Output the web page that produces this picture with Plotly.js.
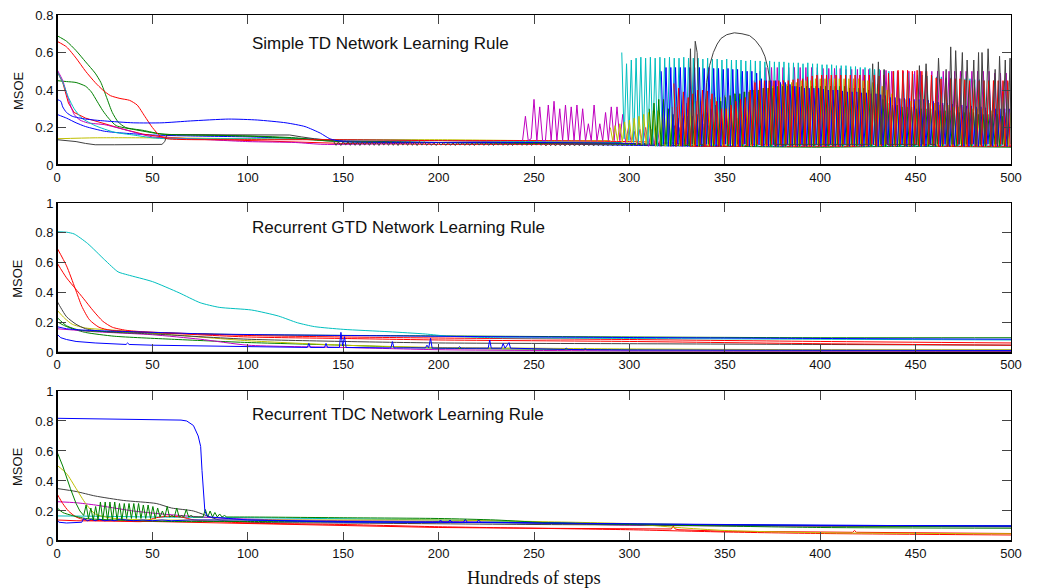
<!DOCTYPE html>
<html><head><meta charset="utf-8">
<script src="https://cdn.plot.ly/plotly-3.0.1.min.js"></script>
<style>body{margin:0;background:#fff}#chart{width:1041px;height:588px}</style>
</head><body><div id="chart"></div>
<script>
// ---------------- data: panel 1 (Simple TD) ----------------
const xTicks = [0,50,100,150,200,250,300,350,400,450,500];
const panelTitles = ["Simple TD Network Learning Rule","Recurrent GTD Network Learning Rule","Recurrent TDC Network Learning Rule"];

const td_blue1_x = [0,2,3,5,8,15,25,40,55,70,90,105,120,130,138,143,150,200,250,300,316.7];
const td_blue1_y = [0.35,0.34,0.31,0.28,0.26,0.245,0.235,0.225,0.225,0.235,0.245,0.24,0.225,0.205,0.17,0.14,0.125,0.12,0.12,0.115,0.11];
const td_blue2_x = [0,5,10,15,25,35,50,70,100,130,150,200,250,300,350,400,450,500];
const td_blue2_y = [0.27,0.25,0.225,0.205,0.18,0.17,0.16,0.155,0.15,0.14,0.13,0.12,0.115,0.105,0.10,0.10,0.10,0.10];
const td_green1_x = [0,5,10,15,20,23,26,29,32,36,45,55,70,100,125,140,150,200,250,300,310.4];
const td_green1_y = [0.69,0.66,0.61,0.55,0.49,0.44,0.36,0.28,0.23,0.20,0.185,0.165,0.16,0.155,0.145,0.13,0.125,0.12,0.12,0.115,0.11];
const td_green2_x = [0,5,10,15,18,21,24,27,31,40,55,80,110,140,150,200,250,300,350,400,450,500];
const td_green2_y = [0.45,0.445,0.44,0.42,0.39,0.34,0.29,0.25,0.21,0.19,0.165,0.16,0.15,0.13,0.125,0.12,0.115,0.11,0.10,0.095,0.10,0.095];
const td_red1_x = [0,5,10,15,20,24,28,33,38,42,46,50,54,58,100,150,200,250,300,323.3];
const td_red1_y = [0.66,0.63,0.57,0.50,0.44,0.40,0.37,0.355,0.345,0.32,0.26,0.20,0.155,0.14,0.135,0.135,0.13,0.13,0.125,0.12];
const td_red2_x = [0,3,6,9,15,25,35,45,55,70,100,125,150,200,250,300,330,332,360,362,380,382,420,422,460,462,500];
const td_red2_y = [0.50,0.44,0.33,0.28,0.25,0.22,0.19,0.165,0.15,0.14,0.13,0.12,0.115,0.11,0.11,0.115,0.115,0.10,0.10,0.11,0.11,0.10,0.10,0.11,0.11,0.10,0.10];
const td_magenta_x = [0,3,6,9,12,16,25,35,50,70,100,125,140,244];
const td_magenta_y = [0.51,0.45,0.35,0.27,0.24,0.225,0.215,0.19,0.15,0.14,0.125,0.12,0.11,0.13];
const td_cyan_x = [0,3,6,9,13,20,30,40,50,58,100,150,200,250,296];
const td_cyan_y = [0.50,0.44,0.36,0.30,0.25,0.21,0.175,0.16,0.145,0.14,0.14,0.135,0.13,0.125,0.12];
const td_yellow_x = [0,20,50,100,150,200,250,290];
const td_yellow_y = [0.14,0.145,0.145,0.14,0.135,0.135,0.13,0.13];
const td_black_x = [0,10,15,20,30,55,56.5,57.5,60,100,122,128,135,145];
const td_black_y = [0.135,0.125,0.115,0.108,0.108,0.11,0.125,0.16,0.162,0.16,0.16,0.15,0.14,0.13];

// ripple band of the black run, 145..330 (step 1.25)
const td_black_ripple = [
0.125,0.105,0.123,0.104,0.125,0.106,0.124,0.105,
0.125,0.105,0.123,0.104,0.125,0.106,0.124,0.105,
0.125,0.105,0.123,0.104,0.125,0.106,0.124,0.105,
0.125,0.105,0.123,0.104,0.125,0.106,0.124,0.105,
0.125,0.105,0.123,0.104,0.125,0.106,0.124,0.105,
0.12,0.105,0.118,0.104,0.121,0.106,0.119,0.105,
0.12,0.105,0.118,0.104,0.121,0.106,0.119,0.105,
0.12,0.105,0.118,0.104,0.121,0.106,0.119,0.105,
0.12,0.105,0.118,0.104,0.121,0.106,0.119,0.105,
0.12,0.105,0.118,0.104,0.121,0.106,0.119,0.105,
0.12,0.105,0.118,0.104,0.121,0.106,0.119,0.105,
0.118,0.102,0.117,0.103,0.118,0.102,0.117,0.103,
0.118,0.102,0.117,0.103,0.118,0.102,0.117,0.103,
0.118,0.102,0.117,0.103,0.118,0.102,0.117,0.103,
0.118,0.102,0.117,0.103,0.118,0.102,0.117,0.103,
0.118,0.102,0.117,0.103,0.118,0.102,0.117,0.103,
0.118,0.102,0.117,0.103,0.118,0.102,0.117,0.103,
0.118,0.102,0.117,0.103,0.118,0.102,0.117,0.103,
0.118,0.102,0.117,0.103,0.11];

const td_black_late_x = [330,331,332,333,334.5,335.5,337,339,340.5,342,344,346,348,351,355,359,363,366,369,371,372.5,374,376,426,427.5,429,430.5,432,433.5,435,450.5,452,453.5,455.5,457.5,460.5,462,464,466,467.2,468.4,469.7,471,472.7,474.5,475.7,477,478.7,480.5,481.7,483,483.9,484.8,486.4,488,489.8,491.7,492.8,494,495.5,497,498.2,499.5,500];
const td_black_late_y = [0.11,0.11,0.62,0.11,0.66,0.60,0.11,0.11,0.44,0.53,0.60,0.645,0.675,0.695,0.705,0.70,0.69,0.665,0.625,0.58,0.52,0.43,0.11,0.11,0.54,0.11,0.55,0.11,0.51,0.11,0.11,0.53,0.11,0.54,0.11,0.11,0.57,0.11,0.51,0.11,0.63,0.11,0.61,0.11,0.60,0.11,0.56,0.11,0.56,0.11,0.60,0.11,0.60,0.11,0.62,0.11,0.51,0.11,0.58,0.11,0.56,0.11,0.57,0.11];

// oscillating parts, sampled every 1.25 (magenta every 1.5)
const td_cyan_osc = [0.60,0.14,0.54,0.13,0.56,0.12,0.57,0.12,
0.575,0.11,0.57,0.11,0.575,0.11,0.57,0.10,
0.575,0.11,0.57,0.10,0.575,0.11,0.57,0.10,
0.57,0.10,0.575,0.11,0.57,0.10,0.57,0.11,
0.57,0.10,0.565,0.11,0.57,0.10,0.565,0.10,
0.565,0.10,0.56,0.11,0.565,0.10,0.56,0.10,
0.56,0.11,0.56,0.10,0.555,0.10,0.56,0.11,
0.555,0.10,0.555,0.10,0.55,0.11,0.555,0.10,
0.55,0.10,0.55,0.11,0.55,0.10,0.545,0.10,
0.545,0.11,0.545,0.10,0.54,0.10,0.545,0.11,
0.54,0.10,0.54,0.10,0.535,0.11,0.535,0.10,
0.535,0.10,0.53,0.11,0.53,0.10,0.53,0.10,
0.525,0.11,0.525,0.10,0.52,0.10,0.52,0.11,
0.515,0.10,0.51,0.10,0.51,0.11,0.505,0.10,
0.50,0.10,0.50,0.11,0.495,0.10,0.49,0.10,
0.49,0.11,0.485,0.10,0.48,0.10,0.48,0.11,
0.475,0.10,0.475,0.10,0.47,0.11,0.47,0.10,
0.465,0.10,0.465,0.11,0.46,0.10,0.46,0.10,
0.46,0.11,0.46,0.10,0.455,0.10,0.455,0.11,
0.45,0.10,0.45,0.10,0.45,0.11,0.445,0.10,
0.445,0.10,0.44];

const td_blue_osc = [0.50,0.11,0.52,0.10,0.52,0.10,0.52,0.11,
0.52,0.10,0.52,0.10,0.52,0.11,0.52,0.10,
0.52,0.10,0.515,0.11,0.52,0.10,0.515,0.10,
0.515,0.10,0.51,0.11,0.515,0.10,0.51,0.10,
0.51,0.10,0.50,0.11,0.50,0.10,0.50,0.10,
0.49,0.11,0.46,0.10,0.45,0.10,0.45,0.11,
0.45,0.10,0.44,0.10,0.44,0.11,0.43,0.10,
0.42,0.10,0.415,0.11,0.41,0.10,0.41,0.10,
0.41,0.11,0.41,0.10,0.405,0.10,0.40,0.11,
0.40,0.10,0.40,0.10,0.395,0.11,0.39,0.10,
0.39,0.10,0.39,0.11,0.385,0.10,0.385,0.10,
0.38,0.11,0.38,0.10,0.375,0.10,0.37,0.11,
0.36,0.10,0.36,0.10,0.355,0.11,0.355,0.10,
0.355,0.10,0.35,0.11,0.35,0.10,0.35,0.10,
0.345,0.11,0.34,0.10,0.335,0.10,0.33,0.11,
0.33,0.10,0.325,0.10,0.32,0.11,0.32,0.10,
0.315,0.10,0.315,0.11,0.31,0.10,0.31,0.10,
0.305,0.11,0.305,0.10,0.30,0.10,0.30,0.11,
0.30,0.10,0.30];

const td_red_osc = [0.435,0.10,0.41,0.10,0.39,0.11,0.36,0.10,
0.38,0.10,0.40,0.11,0.40,0.10,0.395,0.10,
0.38,0.11,0.34,0.10,0.30,0.10,0.30,0.11,
0.32,0.10,0.34,0.10,0.35,0.11,0.36,0.10,
0.40,0.10,0.44,0.11,0.45,0.10,0.45,0.10,
0.45,0.11,0.45,0.10,0.45,0.10,0.45,0.11,
0.45,0.10,0.455,0.10,0.46,0.11,0.46,0.10,
0.47,0.10,0.475,0.11,0.48,0.10,0.48,0.10,
0.48,0.11,0.48,0.10,0.48,0.10,0.48,0.11,
0.48,0.10,0.48,0.10,0.48,0.11,0.48,0.10,
0.48,0.10,0.48,0.11,0.48,0.10,0.475,0.10,
0.48,0.11,0.49,0.10,0.50,0.10,0.505,0.11,
0.505,0.10,0.505,0.10,0.50,0.11,0.505,0.10,
0.50,0.10,0.50,0.11,0.48,0.10,0.465,0.10,
0.46,0.11,0.46,0.10,0.46,0.10,0.46,0.11,
0.46,0.10,0.455,0.10,0.45,0.11,0.45,0.10,
0.45,0.10,0.45,0.11,0.45,0.10,0.45,0.10,
0.45,0.11,0.45,0.10,0.45,0.10];

const td_green_osc = [0.30,0.11,0.33,0.11,0.35,0.10,0.35,0.11,
0.30,0.10,0.27,0.10,0.25,0.11,0.25,0.10,
0.26,0.10,0.26,0.11,0.27,0.10,0.27,0.10,
0.28,0.11,0.30,0.10,0.32,0.10,0.34,0.11,
0.36,0.10,0.37,0.10,0.38,0.11,0.38,0.10,
0.39,0.10,0.39,0.11,0.40,0.10,0.40,0.10,
0.41,0.11,0.41,0.10,0.41,0.10,0.42,0.11,
0.42,0.10,0.42,0.10,0.42,0.11,0.42,0.10,
0.42,0.10,0.42,0.11,0.42,0.10,0.42,0.10,
0.42,0.11,0.42,0.10,0.42,0.10,0.42,0.11,
0.42,0.10,0.42,0.10,0.41,0.11,0.41,0.10,
0.41,0.10,0.41,0.11,0.40,0.10,0.40,0.10,
0.38,0.11,0.35,0.10,0.33,0.10,0.32,0.11,
0.32,0.10,0.31,0.10,0.31,0.11,0.31,0.10,
0.30,0.10,0.30,0.11,0.30,0.10,0.30,0.10,
0.29,0.11,0.29,0.10,0.29,0.10,0.29,0.11,
0.28,0.10,0.28,0.10,0.28,0.11,0.28,0.10,
0.28,0.10,0.27,0.11,0.27,0.10,0.27,0.10,
0.27,0.11,0.27,0.10,0.26,0.10];

const td_yellow_osc = [0.20,0.13,0.21,0.13,0.22,0.12,0.23,0.12,
0.24,0.12,0.25,0.11,0.26,0.11,0.27,0.11,
0.28,0.11,0.29,0.10,0.29,0.11,0.30,0.10,
0.30,0.10,0.31,0.11,0.31,0.10,0.32,0.10,
0.33,0.11,0.33,0.10,0.34,0.10,0.34,0.11,
0.35,0.10,0.35,0.10,0.36,0.11,0.36,0.10,
0.37,0.10,0.37,0.11,0.38,0.10,0.38,0.10,
0.39,0.11,0.39,0.10,0.40,0.10,0.40,0.11,
0.41,0.10,0.41,0.10,0.42,0.11,0.42,0.10,
0.43,0.10,0.43,0.11,0.44,0.10,0.44,0.10,
0.45,0.11,0.45,0.10,0.45,0.10,0.46,0.11,
0.46,0.10,0.46,0.10,0.46,0.11,0.46,0.10,
0.46,0.10,0.46,0.11,0.46,0.10,0.46,0.10,
0.46,0.11,0.45,0.10,0.45,0.10,0.44,0.11,
0.43,0.10,0.42,0.10,0.40,0.11,0.38,0.10,
0.36,0.10,0.35,0.11,0.35,0.10,0.34,0.10,
0.34,0.11,0.34,0.10,0.33,0.10,0.33,0.11,
0.33,0.10,0.32,0.10,0.32,0.11,0.32,0.10,
0.31,0.10,0.31,0.11,0.31,0.10,0.30,0.10,
0.30,0.11,0.30,0.10,0.30,0.10,0.29,0.11,
0.29,0.10,0.29,0.10,0.29,0.11,0.28,0.10,
0.28];

const td_magenta_osc = [0.13,0.26,0.13,0.14,0.35,0.13,0.31,0.13,0.13,0.32,0.13,0.34,0.13,0.30,0.13,0.32,0.13,0.31,0.13,0.32,0.13,0.30,0.13,0.22,0.13,0.32,0.13,0.22,0.13,0.28,0.13,0.31,0.13,0.31,0.13,0.27,0.12,0.20,0.12,
0.18,0.11,0.19,0.11,0.20,0.10,0.19,0.11,0.21,0.10,0.20,0.11,0.22,0.10,0.21,0.11,0.20,0.10,0.22,0.11,0.21,0.10,0.23,0.11,0.22,0.10,0.21,0.11,0.23,0.10,0.22,0.11,0.24,0.10,0.23,0.11,0.25,0.10,0.24,0.11,0.26,
0.10,0.45,0.10,0.50,0.11,0.52,0.10,0.52,0.10,0.52,0.11,0.52,0.10,0.52,0.10,0.52,0.11,0.52,0.10,0.52,
0.10,0.52,0.11,0.52,0.10,0.515,0.10,0.515,0.11,0.515,0.10,0.515,0.10,0.51,0.11,0.51,0.10,0.51,0.10,0.51,
0.11,0.51,0.10,0.505,0.10,0.505,0.11,0.505,0.10,0.50,0.10,0.50,0.11,0.50,0.10,0.50,0.10,0.50,0.11,0.50,
0.10,0.50,0.10,0.50,0.11,0.50,0.10,0.50,0.10,0.50,0.11,0.50,0.10,0.50,0.10,0.50,0.11,0.50,0.10,0.50,
0.10,0.50,0.11,0.50,0.10,0.49,0.10,0.49,0.11,0.49,0.10];

// ---------------- data: panel 2 (Recurrent GTD) ----------------
const gtd_cyan_x = [0,5,9,16,25,32,37,50,64,75,85,102,116,126,135,150,174,193,205,230,300,400,500];
const gtd_cyan_y = [0.808,0.805,0.793,0.73,0.62,0.54,0.52,0.475,0.40,0.334,0.303,0.285,0.245,0.20,0.174,0.156,0.14,0.125,0.11,0.10,0.095,0.09,0.085];
const gtd_red1_x = [0,5,9.5,13,17,22,28,40,50,100,150,200,300,400,500];
const gtd_red1_y = [0.70,0.58,0.43,0.31,0.22,0.17,0.15,0.14,0.135,0.105,0.095,0.085,0.075,0.06,0.05];
const gtd_red2_x = [0,5,9.5,14,19,24,29,36,45,100,150,200,300,400,500];
const gtd_red2_y = [0.60,0.50,0.43,0.36,0.28,0.21,0.17,0.15,0.14,0.115,0.105,0.098,0.088,0.075,0.065];
const gtd_gray_x = [0,2,5,10,15,25,50,100,150,200,300,400,500];
const gtd_gray_y = [0.345,0.30,0.24,0.19,0.16,0.14,0.125,0.09,0.075,0.065,0.06,0.055,0.05];
const gtd_yellow_x = [0,4,8,15,30,60,100,150,200,250,300,400,500];
const gtd_yellow_y = [0.285,0.23,0.19,0.165,0.15,0.12,0.08,0.05,0.035,0.03,0.025,0.02,0.02];
const gtd_green1_x = [0,5,12,30,60,100,200,300,400,500];
const gtd_green1_y = [0.236,0.18,0.15,0.14,0.13,0.12,0.112,0.105,0.10,0.10];
const gtd_green2_x = [0,4,8,15,30,60,100,150,200,300,400,500];
const gtd_green2_y = [0.207,0.18,0.16,0.135,0.11,0.09,0.068,0.05,0.03,0.02,0.015,0.012];
const gtd_blue1_x = [0,5,15,40,80,150,250,400,500];
const gtd_blue1_y = [0.174,0.16,0.15,0.14,0.125,0.115,0.105,0.095,0.09];
const gtd_magenta_x = [0,10,20,50,75,100,150,200,300,500];
const gtd_magenta_y = [0.16,0.15,0.14,0.12,0.09,0.05,0.035,0.02,0.012,0.01];
const gtd_blue2_x = [0,2,5,10,20,35,36.2,37,37.8,50,100,130,131.2,132,132.8,140.2,141,141.8,148,148.8,149.7,150.7,151.5,175,175.8,176.6,193.1,193.9,194.8,195.8,196.6,210.2,211,211.8,226,226.8,227.6,233,233.8,234.8,236.9,237.7,266,266.9,267.8,276,276.8,277.6,300,500];
const gtd_blue2_y = [0.124,0.10,0.088,0.075,0.065,0.055,0.055,0.065,0.055,0.05,0.04,0.035,0.035,0.062,0.035,0.035,0.062,0.035,0.035,0.136,0.045,0.107,0.035,0.032,0.074,0.032,0.032,0.05,0.032,0.096,0.031,0.03,0.04,0.03,0.03,0.085,0.03,0.03,0.062,0.03,0.067,0.03,0.022,0.03,0.022,0.02,0.026,0.02,0.018,0.015];

// ---------------- data: panel 3 (Recurrent TDC) ----------------
const tdc_blue1_x = [0,20,40,60,65,68,71.5,74,75.3,76,76.7,77.5,78.5,80,90,100,150,200,250,300,400,500];
const tdc_blue1_y = [0.818,0.815,0.812,0.81,0.806,0.80,0.77,0.70,0.63,0.47,0.30,0.20,0.17,0.16,0.15,0.14,0.13,0.125,0.12,0.11,0.105,0.10];
const tdc_green1_x = [0,3,7,10,12,14];
const tdc_green1_y = [0.595,0.50,0.35,0.25,0.20,0.17];
const tdc_green1_osc = [0.17,0.24,0.15,0.22,0.14,0.23,0.14,0.26,0.14,0.26,0.14,0.26,0.14,0.26,0.14,0.25,0.14,0.25,0.15,0.25,0.15,0.25,0.15,0.25,0.15,0.24,0.15,0.24,0.15,0.23,0.15,0.22,0.16,0.20,0.16,0.23,0.16,0.17,0.16,0.22,0.16,0.17,0.16,0.21,0.16,0.17,0.16,0.16,0.16,0.16,0.16,0.21,0.16,0.20,0.16,0.19,0.16,0.18,0.16,0.17,0.16];
const tdc_green1_tail_x = [89,100,150,200,230,260,300,400,500];
const tdc_green1_tail_y = [0.16,0.16,0.155,0.15,0.14,0.12,0.11,0.09,0.085];
const tdc_green2_x = [0,3,8,15,30,60,100,200,300,400,500];
const tdc_green2_y = [0.222,0.19,0.17,0.15,0.14,0.13,0.13,0.125,0.115,0.10,0.095];
const tdc_yellow_x = [0,5,10,15,20,30,50,100,150,200,250,300,325,350,400,500];
const tdc_yellow_y = [0.505,0.45,0.35,0.25,0.18,0.15,0.14,0.14,0.14,0.14,0.13,0.115,0.09,0.07,0.055,0.048];
const tdc_black_x = [0,10,20,35,52,60,71.5,85,100,150,250,350,500];
const tdc_black_y = [0.35,0.33,0.30,0.27,0.25,0.22,0.20,0.14,0.125,0.12,0.11,0.105,0.10];
const tdc_red1_x = [0,3,6,10,15,30,45,52,58,65,72,100,150,200,250,300,350,400,500];
const tdc_red1_y = [0.315,0.25,0.20,0.16,0.14,0.135,0.13,0.155,0.165,0.16,0.14,0.12,0.11,0.095,0.085,0.075,0.06,0.05,0.04];
const tdc_red2_x = [0,10,50,100,150,200,250,300,322,323,324,326,350,400,417,418,419,450,500];
const tdc_red2_y = [0.14,0.135,0.13,0.115,0.10,0.09,0.085,0.08,0.08,0.10,0.08,0.075,0.065,0.06,0.058,0.07,0.058,0.055,0.05];
const tdc_magenta_x = [0,10,20,30,40,55,70,90,120,200,250,300,500];
const tdc_magenta_y = [0.262,0.255,0.24,0.22,0.20,0.18,0.165,0.15,0.14,0.13,0.12,0.105,0.095];
const tdc_cyan_x = [0,20,50,100,200,270,300,500];
const tdc_cyan_y = [0.167,0.165,0.16,0.155,0.14,0.12,0.11,0.10];
const tdc_blue2_x = [0,1,5,13,14,16,18,20,22,25,28,30,33,36,40,45,50,55,60,70,100,150,200,201,202,205,206,207,213,214,215,220,221,222,230,260,300,400,500];
const tdc_blue2_y = [0.14,0.125,0.12,0.125,0.15,0.135,0.145,0.135,0.145,0.135,0.14,0.135,0.145,0.14,0.135,0.14,0.135,0.14,0.135,0.14,0.14,0.125,0.125,0.14,0.125,0.125,0.14,0.125,0.125,0.145,0.125,0.125,0.14,0.125,0.125,0.12,0.11,0.105,0.10];

// ---------------- drawing ----------------
const COL = {b:'#0000ff', g:'#008000', r:'#ff0000', c:'#00bfbf', m:'#bf00bf', y:'#bfbf00', k:'#404040'};
function ax(n){ return n===1 ? '' : String(n); }
function ln(x, y, col, n, shape){
  return {type:'scatter', mode:'lines', x:x, y:y, xaxis:'x'+ax(n), yaxis:'y'+ax(n),
    line:{color:col, width:1, shape:shape||'linear', smoothing:0.6}, hoverinfo:'skip', showlegend:false};
}
function osc(x0, dx, y, col, n){
  return {type:'scatter', mode:'lines', x0:x0, dx:dx, y:y, xaxis:'x'+ax(n), yaxis:'y'+ax(n),
    line:{color:col, width:1}, hoverinfo:'skip', showlegend:false};
}
const S='spline';
const traces = [
  // panel 1
  ln(td_blue2_x, td_blue2_y, COL.b, 1, S),
  ln(td_green2_x, td_green2_y, COL.g, 1, S),
  ln(td_red2_x, td_red2_y, COL.r, 1),
  ln(td_yellow_x, td_yellow_y, COL.y, 1, S),
  ln(td_magenta_x, td_magenta_y, COL.m, 1, S),
  ln(td_cyan_x, td_cyan_y, COL.c, 1, S),
  ln(td_black_x, td_black_y, COL.k, 1),
  ln(td_green1_x, td_green1_y, COL.g, 1, S),
  ln(td_red1_x, td_red1_y, COL.r, 1, S),
  ln(td_blue1_x, td_blue1_y, COL.b, 1, S),
  osc(145, 1.25, td_black_ripple, COL.k, 1),
  osc(244, 1.5, td_magenta_osc, COL.m, 1),
  osc(296, 1.25, td_cyan_osc, COL.c, 1),
  osc(290, 1.25, td_yellow_osc, COL.y, 1),
  osc(310.4, 1.25, td_green_osc, COL.g, 1),
  osc(316.7, 1.25, td_blue_osc, COL.b, 1),
  osc(323.3, 1.25, td_red_osc, COL.r, 1),
  ln(td_black_late_x, td_black_late_y, COL.k, 1),
  // panel 2
  ln(gtd_green2_x, gtd_green2_y, COL.g, 2, S),
  ln(gtd_magenta_x, gtd_magenta_y, COL.m, 2, S),
  ln(gtd_yellow_x, gtd_yellow_y, COL.y, 2, S),
  ln(gtd_gray_x, gtd_gray_y, COL.k, 2, S),
  ln(gtd_green1_x, gtd_green1_y, COL.g, 2, S),
  ln(gtd_red2_x, gtd_red2_y, COL.r, 2, S),
  ln(gtd_red1_x, gtd_red1_y, COL.r, 2, S),
  ln(gtd_cyan_x, gtd_cyan_y, COL.c, 2, S),
  ln(gtd_blue1_x, gtd_blue1_y, COL.b, 2, S),
  ln(gtd_blue2_x, gtd_blue2_y, COL.b, 2),
  // panel 3
  ln(tdc_cyan_x, tdc_cyan_y, COL.c, 3, S),
  ln(tdc_magenta_x, tdc_magenta_y, COL.m, 3, S),
  ln(tdc_black_x, tdc_black_y, COL.k, 3, S),
  ln(tdc_red2_x, tdc_red2_y, COL.r, 3),
  ln(tdc_red1_x, tdc_red1_y, COL.r, 3, S),
  ln(tdc_yellow_x, tdc_yellow_y, COL.y, 3, S),
  ln(tdc_green2_x, tdc_green2_y, COL.g, 3, S),
  ln(tdc_blue2_x, tdc_blue2_y, COL.b, 3),
  ln(tdc_green1_x, tdc_green1_y, COL.g, 3),
  osc(14, 1.25, tdc_green1_osc, COL.g, 3),
  ln(tdc_green1_tail_x, tdc_green1_tail_y, COL.g, 3, S),
  ln(tdc_blue1_x, tdc_blue1_y, COL.b, 3)
];

const FONT = 'Liberation Sans, Arial, Helvetica, sans-serif';
function xa(n){
  return {domain:[0,1], anchor:'y'+ax(n), range:[0,500], tickmode:'array', tickvals:xTicks,
    ticks:'inside', ticklen:9, tickwidth:1, tickcolor:'#444', showline:true, linecolor:'#000', linewidth:1,
    mirror:'ticks', showgrid:false, zeroline:false, tickfont:{family:FONT, size:13, color:'#111'}};
}
function ya(n, dom, top){
  return {domain:dom, anchor:'x'+ax(n), range:[0,top], tick0:0, dtick:0.2,
    ticks:'inside', ticklen:9, tickwidth:1, tickcolor:'#444', showline:true, linecolor:'#000', linewidth:1,
    mirror:'ticks', showgrid:false, zeroline:false, tickfont:{family:FONT, size:13, color:'#111'}};
}
const doms = [[0.7148,1],[0.358,0.6426],[0,0.2852]];
const shapes = [];
const annotations = [];
const titleY = [0.65, 0.836, 0.84];
for (let n=1;n<=3;n++){
  shapes.push({type:'line', xref:'x'+ax(n)+' domain', yref:'y'+ax(n)+' domain', x0:0, x1:1, y0:0, y1:0, line:{color:'#000', width:2}});
  shapes.push({type:'line', xref:'x'+ax(n)+' domain', yref:'y'+ax(n)+' domain', x0:0, x1:0, y0:0, y1:1, line:{color:'#000', width:2}});
  annotations.push({text:panelTitles[n-1], xref:'x'+ax(n), yref:'y'+ax(n), x:101.2, y:titleY[n-1], xanchor:'left', yanchor:'middle', showarrow:false, font:{family:FONT, size:17, color:'#111'}});
  annotations.push({text:'MSOE', xref:'paper', yref:'paper', x:-0.0409, y:(doms[n-1][0]+doms[n-1][1])/2, xanchor:'center', yanchor:'middle', textangle:-90, showarrow:false, font:{family:FONT, size:13, color:'#111'}});
}
annotations.push({text:'Hundreds of steps', xref:'paper', yref:'paper', x:0.5, y:-0.0703, xanchor:'center', yanchor:'middle', showarrow:false, font:{family:'Liberation Serif, Times New Roman, serif', size:18.5, color:'#111'}});

const layout = {
  width:1041, height:588, margin:{l:57, r:30, t:15, b:47}, paper_bgcolor:'#fff', plot_bgcolor:'#fff',
  showlegend:false,
  xaxis:xa(1), xaxis2:xa(2), xaxis3:xa(3),
  yaxis:ya(1, doms[0], 0.8), yaxis2:ya(2, doms[1], 1), yaxis3:ya(3, doms[2], 1),
  shapes:shapes, annotations:annotations
};
Plotly.newPlot('chart', traces, layout, {displayModeBar:false, staticPlot:true});
</script></body></html>
